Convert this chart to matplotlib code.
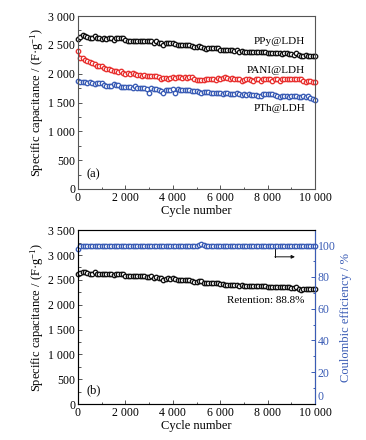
import numpy as np
import matplotlib
matplotlib.use("Agg")
import matplotlib.pyplot as plt
from matplotlib.ticker import FuncFormatter, MultipleLocator

plt.rcParams['font.family'] = ['Liberation Serif', 'DejaVu Serif']
plt.rcParams['mathtext.fontset'] = 'custom'
plt.rcParams['mathtext.rm'] = 'Liberation Serif'
plt.rcParams['mathtext.it'] = 'Liberation Serif:italic'
plt.rcParams['font.size'] = 8.5

# cycle number, sampled every 100 cycles
cycles = list(range(0, 10001, 100))

ppy = [2610, 2640, 2665, 2655, 2630, 2620, 2615, 2650, 2625, 2615,
       2610, 2615, 2610, 2620, 2615, 2590, 2620, 2625, 2620, 2620,
       2580, 2575, 2575, 2575, 2570, 2570, 2570, 2570, 2570, 2565,
       2565, 2570, 2540, 2560, 2540, 2530, 2500, 2525, 2530, 2525,
       2530, 2520, 2495, 2490, 2490, 2490, 2490, 2490, 2485, 2460,
       2455, 2480, 2470, 2440, 2430, 2445, 2445, 2445, 2445, 2445,
       2410, 2410, 2405, 2405, 2405, 2405, 2400, 2405, 2380, 2395,
       2375, 2370, 2370, 2370, 2370, 2370, 2370, 2370, 2370, 2375,
       2365, 2355, 2360, 2360, 2360, 2360, 2350, 2360, 2360, 2350,
       2340, 2330, 2360, 2320, 2305, 2310, 2320, 2315, 2310, 2315, 2310]

pani = [2390, 2270, 2265, 2240, 2220, 2200, 2180, 2160, 2140, 2125,
        2140, 2100, 2085, 2075, 2065, 2055, 2040, 2035, 2050, 2020,
        2000, 2005, 2000, 2010, 1990, 1985, 1970, 1960, 1975, 1955,
        1960, 1965, 1960, 1955, 1940, 1910, 1920, 1920, 1915, 1930,
        1935, 1925, 1940, 1935, 1925, 1945, 1925, 1945, 1935, 1910,
        1895, 1890, 1895, 1890, 1910, 1915, 1900, 1905, 1890, 1920,
        1905, 1925, 1945, 1920, 1910, 1920, 1900, 1915, 1905, 1880,
        1890, 1900, 1900, 1890, 1875, 1905, 1905, 1880, 1900, 1910,
        1905, 1905, 1880, 1900, 1910, 1880, 1900, 1900, 1900, 1900,
        1900, 1900, 1900, 1900, 1900, 1880, 1860, 1880, 1870, 1860, 1860]

pth = [1875, 1860, 1860, 1850, 1840, 1855, 1835, 1815, 1830, 1835,
       1830, 1800, 1790, 1785, 1790, 1815, 1800, 1805, 1770, 1775,
       1775, 1770, 1770, 1760, 1780, 1755, 1750, 1760, 1745, 1735,
       1670, 1745, 1740, 1735, 1720, 1705, 1670, 1720, 1715, 1710,
       1730, 1665, 1740, 1725, 1720, 1715, 1710, 1715, 1700, 1700,
       1705, 1690, 1660, 1680, 1690, 1690, 1670, 1670, 1670, 1665,
       1665, 1650, 1660, 1670, 1650, 1650, 1640, 1660, 1640, 1630,
       1640, 1625, 1640, 1625, 1630, 1630, 1605, 1620, 1640, 1640,
       1645, 1640, 1640, 1635, 1615, 1600, 1610, 1605, 1620, 1600,
       1610, 1620, 1615, 1600, 1590, 1620, 1595, 1610, 1580, 1560, 1550]

ce = [97.5, 99.3, 99.6, 99.6, 99.5, 99.6, 99.6, 99.5, 99.6, 99.4,
      99.5, 99.6, 99.6, 99.5, 99.6, 99.6, 99.5, 99.6, 99.6, 99.5,
      99.6, 99.6, 99.5, 99.6, 99.6, 99.5, 99.6, 99.6, 99.4, 99.5,
      99.6, 99.6, 99.5, 99.6, 99.6, 99.5, 99.6, 99.6, 99.5, 99.6,
      99.6, 99.5, 99.6, 99.6, 99.5, 99.6, 99.6, 99.5, 99.6, 99.6,
      99.6, 99.8, 100.6, 99.9, 99.6, 99.6, 99.5, 99.6, 99.6, 99.5,
      99.6, 99.6, 99.5, 99.6, 99.6, 99.5, 99.6, 99.6, 99.5, 99.6,
      99.6, 99.5, 99.6, 99.6, 99.5, 99.6, 99.6, 99.5, 99.6, 99.6,
      99.6, 99.5, 99.6, 99.6, 99.5, 99.6, 99.6, 99.5, 99.6, 99.6,
      99.6, 99.5, 99.6, 99.6, 99.5, 99.6, 99.6, 99.5, 99.6, 99.6, 99.6]

BLACK = '#111111'
RED = '#e8302f'
BLUE = '#3a5cb5'
SPINE = '#555555'


def thousands(v, pos):
    return f"{int(v):,}".replace(",", " ")


def style_axes(ax, ymax, ystep):
    ax.set_xlim(0, 10000)
    ax.set_ylim(0, ymax)
    ax.xaxis.set_major_locator(MultipleLocator(2000))
    ax.xaxis.set_minor_locator(MultipleLocator(1000))
    ax.yaxis.set_major_locator(MultipleLocator(ystep))
    ax.yaxis.set_minor_locator(MultipleLocator(ystep / 2))
    ax.xaxis.set_major_formatter(FuncFormatter(thousands))
    ax.yaxis.set_major_formatter(FuncFormatter(thousands))
    ax.tick_params(which='both', direction='in', color=SPINE, width=0.7,
                   labelsize=8.5, pad=2)
    ax.tick_params(which='major', length=3)
    ax.tick_params(which='minor', length=1.8)
    for s in ax.spines.values():
        s.set_color(SPINE)
        s.set_linewidth(0.8)
    ax.set_xlabel("Cycle number", fontsize=9, labelpad=1)
    ax.set_ylabel("Specific capacitance / (F·g$^{-1}$)", fontsize=9, labelpad=2)


def series(ax, y, color):
    ax.plot(cycles, y, color=color, lw=0.9, marker='o', ms=3.2,
            mfc='white', mec=color, mew=0.95, clip_on=False)


fig = plt.figure(figsize=(3.66, 4.40), dpi=100)

ax1 = fig.add_axes([0.213, 0.5705, 0.648, 0.393])
series(ax1, ppy, BLACK)
series(ax1, pani, RED)
series(ax1, pth, BLUE)
style_axes(ax1, 3000, 500)
ax1.text(9580, 2562, "PPy@LDH", ha='right', va='center', fontsize=8)
ax1.text(9580, 2060, "PANI@LDH", ha='right', va='center', fontsize=8)
ax1.text(9580, 1396, "PTh@LDH", ha='right', va='center', fontsize=8)
ax1.text(350, 254, "(a)", ha='left', va='center', fontsize=9)

ax2 = fig.add_axes([0.213, 0.0818, 0.648, 0.395])
series(ax2, ppy, BLACK)
style_axes(ax2, 3500, 500)
ax2.text(9550, 2094, "Retention: 88.8%", ha='right', va='center', fontsize=8)
ax2.text(350, 268, "(b)", ha='left', va='center', fontsize=9)

ax3 = ax2.twinx()
series(ax3, ce, BLUE)
ax3.set_ylim(0, 109.4)
ax3.yaxis.set_major_locator(MultipleLocator(20))
ax3.yaxis.set_minor_locator(MultipleLocator(10))
# the "0" on the right axis is drawn separately, lifted above the x labels
ax3.yaxis.set_major_formatter(FuncFormatter(lambda v, p: "" if v == 0 else f"{v:g}"))
ax3.tick_params(which='both', direction='in', color=BLUE, labelcolor=BLUE,
                width=0.7, labelsize=8.5, pad=2)
ax3.tick_params(which='major', length=3)
ax3.tick_params(which='minor', length=1.8)
ax3.spines['right'].set_color(BLUE)
ax3.spines['right'].set_linewidth(0.8)
ax3.set_ylabel("Coulombic efficiency / %", color=BLUE, fontsize=9, labelpad=3)
ax3.text(1.012, 0.003, "0", transform=ax3.transAxes, color=BLUE,
         fontsize=8.5, ha='left', va='bottom')

# L-shaped pointer toward the right axis
ax2.plot([8300, 8300], [3144, 2964], color=BLACK, lw=0.7)
ax2.annotate("", xy=(9150, 2964), xytext=(8300, 2964),
             arrowprops=dict(arrowstyle='-|>', color=BLACK, lw=0.7,
                             mutation_scale=5, shrinkA=0, shrinkB=0))

fig.savefig("out.png", dpi=100, facecolor='white')
